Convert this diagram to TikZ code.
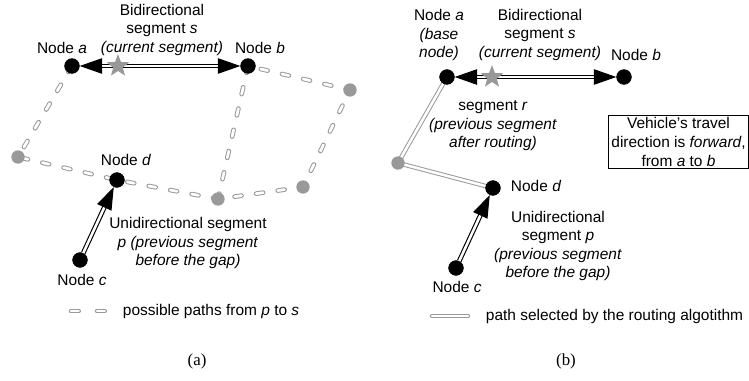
\documentclass[tikz,border=0pt]{standalone}
\usepackage{fontspec}
\setmainfont{Liberation Sans}
\newfontfamily\capfont{Liberation Serif}
\usetikzlibrary{arrows.meta,shapes.geometric,backgrounds}
\tikzset{
  blacknode/.style={draw, circle, fill=black, inner sep=0pt, minimum size=10.5pt},
  graynode/.style={circle, fill=black!40, inner sep=0pt, minimum size=9.5pt},
  seg/.style={draw=black, double=white, line width=0.8pt, double distance=1.8pt,
    >={Triangle[length=16pt,width=11pt]}},
  possible/.style={draw=black!40, double=white, line width=0.7pt, double distance=1.9pt,
    line cap=round, dash pattern=on 5pt off 10.5pt},
  routed/.style={draw=black!40, double=white, line width=0.7pt, double distance=1.8pt},
  lbl/.style={align=center, font=\fontsize{11}{13.2}\selectfont},
  curstar/.style={star, star points=5, star point ratio=2.4, fill=black!40,
    inner sep=0pt, minimum size=17pt},
  capt/.style={font=\capfont\fontsize{12}{14}\selectfont}
}
\begin{document}
\begin{tikzpicture}[x=0.025cm,y=-0.025cm]
\useasboundingbox (0,0) rectangle (749,381);
% (a) possible paths
\node (a) at (72,66) [blacknode] {};
\node (b) at (248,66) [blacknode] {};
\node (c) at (80,260) [blacknode] {};
\node (d) at (117,180) [blacknode] {};
\node (g1) at (18,157) [graynode] {};
\node (g2) at (350,90) [graynode] {};
\node (g3) at (218,199) [graynode] {};
\node (g4) at (303,187) [graynode] {};

\begin{pgfonlayer}{background}
\draw[possible] (a.center) -- (g1.center) -- (d.center) -- (g3.center) -- (g4.center) -- (g2.center) -- (b.center);
\draw[possible] (b.center) -- (g3.center);
\end{pgfonlayer}

\draw[seg, <->] (a) -- (b);
\draw[seg, ->] (c) -- (d);
\node (s) at (118,66) [curstar] {};

\node[lbl] (na) at (62,48) {Node \textit{a}};
\node[lbl] (nb) at (260,48) {Node \textit{b}};
\node[lbl] (sa) at (162,30) {Bidirectional\\segment \textit{s}\\\textit{(current segment)}};
\node[lbl] (nd) at (126,160) {Node \textit{d}};
\node[lbl] (nc) at (82,280) {Node \textit{c}};
\node[lbl] (pa) at (188,243) {Unidirectional segment\\\textit{p (previous segment}\\\textit{before the gap)}};

\coordinate (la1) at (71,311);
\coordinate (la2) at (105,311);
\draw[possible, dash pattern=on 5.5pt off 13pt] (la1) -- (la2);
\node[lbl, anchor=west] (lat) at (118,311) {possible paths from \textit{p} to \textit{s}};
\node[capt] (capa) at (197,361) {(a)};

% (b) path after routing
\node (a2) at (447,77) [blacknode] {};
\node (b2) at (624,77) [blacknode] {};
\node (c2) at (456,268) [blacknode] {};
\node (d2) at (493,188) [blacknode] {};
\node (r2) at (398,163) [graynode] {};

\begin{pgfonlayer}{background}
\draw[routed] (a2.center) -- (r2.center) -- (d2.center);
\end{pgfonlayer}
\draw[seg, <->] (a2) -- (b2);
\draw[seg, ->] (c2) -- (d2);
\node (s2) at (492,77) [curstar] {};

\node[lbl] (na2) at (439,35) {Node \textit{a}\\\textit{(base}\\\textit{node)}};
\node[lbl] (sb) at (540,35) {Bidirectional\\segment \textit{s}\\\textit{(current segment)}};
\node[lbl] (nb2) at (636,55) {Node \textit{b}};
\node[lbl] (rb) at (493,126) {segment \textit{r}\\\textit{(previous segment}\\\textit{after routing)}};
\node[lbl, draw, line width=0.7pt, minimum width=99pt, minimum height=38pt, inner sep=1pt] (dir) at (678.5,142) {Vehicle's travel\\direction is \textit{forward},\\from \textit{a} to \textit{b}};
\node[lbl, anchor=west] (nd2) at (506,186) {Node \textit{d}};
\node[lbl] (nc2) at (457,287) {Node \textit{c}};
\node[lbl] (pb) at (558,246) {Unidirectional\\segment \textit{p}\\\textit{(previous segment}\\\textit{before the gap)}};

\coordinate (lb1) at (432,316);
\coordinate (lb2) at (468,316);
\draw[routed, line cap=round] (lb1) -- (lb2);
\node[lbl, anchor=west] (lbt) at (481,316) {path selected by the routing algotithm};
\node[capt] (capb) at (566,361) {(b)};
\end{tikzpicture}
\end{document}
